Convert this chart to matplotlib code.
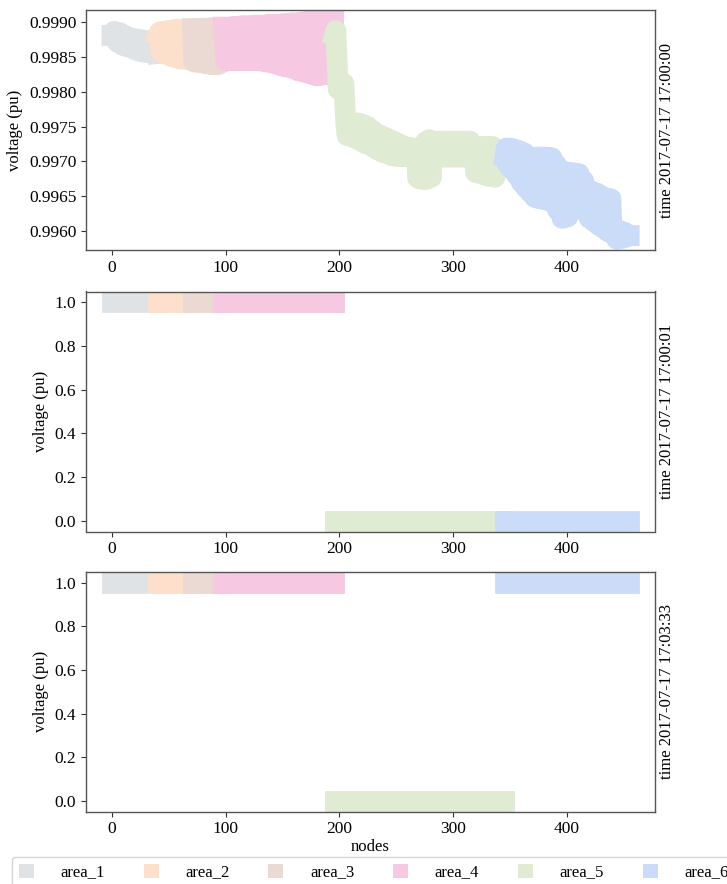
import numpy as np
import matplotlib
matplotlib.use("Agg")
import matplotlib.pyplot as plt
from matplotlib.patches import Patch
from matplotlib.ticker import MultipleLocator, FormatStrFormatter

plt.rcParams['font.family'] = ['Liberation Serif', 'DejaVu Serif']
plt.rcParams['font.size'] = 12

# ---------------- data ----------------
area_names = ['area_1', 'area_2', 'area_3', 'area_4', 'area_5', 'area_6']
area_colors = ['#dfe3e6', '#fde0cb', '#ebdad3', '#f6c8e2', '#dfebd2', '#cbdcf9']

time_labels = ['time 2017-07-17 17:00:00',
               'time 2017-07-17 17:00:01',
               'time 2017-07-17 17:03:33']

# voltages per node at 17:00:00, one list per area (nodes numbered consecutively)
v_area_1 = [0.99881, 0.99881, 0.99887, 0.99886, 0.99874, 0.99871, 0.99884, 0.99885, 0.99869, 0.99867,
            0.99882, 0.99881, 0.99866, 0.99865, 0.99879, 0.99878, 0.99864, 0.99863, 0.99877, 0.99876,
            0.99861, 0.99860, 0.99876, 0.99875, 0.99859, 0.99858, 0.99875, 0.99874, 0.99857, 0.99857,
            0.99874, 0.99873, 0.99856, 0.99856, 0.99873, 0.99872, 0.99855, 0.99855, 0.99872, 0.99871,
            0.99855]

v_area_2 = [0.99882, 0.99886, 0.99858, 0.99857, 0.99887, 0.99887, 0.99855, 0.99854, 0.99888, 0.99888,
            0.99852, 0.99851, 0.99889, 0.99889, 0.99850, 0.99849, 0.99890, 0.99890, 0.99848, 0.99847,
            0.99890, 0.99890, 0.99847, 0.99847, 0.99890, 0.99890, 0.99847, 0.99847, 0.99890, 0.99890]

v_area_3 = [0.99891, 0.99843, 0.99843, 0.99891, 0.99891, 0.99843, 0.99842, 0.99891, 0.99891, 0.99842,
            0.99841, 0.99891, 0.99891, 0.99840, 0.99840, 0.99892, 0.99892, 0.99839, 0.99839, 0.99892,
            0.99892, 0.99839, 0.99839, 0.99892, 0.99892, 0.99841, 0.99842]

v_area_4 = [0.99893, 0.99893, 0.99845, 0.99845, 0.99893, 0.99893, 0.99845, 0.99845,
            0.99894, 0.99894, 0.99845, 0.99845, 0.99894, 0.99894, 0.99845, 0.99845,
            0.99895, 0.99895, 0.99845, 0.99845, 0.99895, 0.99895, 0.99845, 0.99845,
            0.99895, 0.99895, 0.99845, 0.99845, 0.99896, 0.99896, 0.99845, 0.99845,
            0.99896, 0.99896, 0.99844, 0.99844, 0.99896, 0.99896, 0.99843, 0.99843,
            0.99897, 0.99897, 0.99842, 0.99842, 0.99897, 0.99897, 0.99840, 0.99840,
            0.99897, 0.99897, 0.99838, 0.99838, 0.99898, 0.99898, 0.99836, 0.99836,
            0.99898, 0.99898, 0.99835, 0.99835, 0.99899, 0.99899, 0.99833, 0.99833,
            0.99899, 0.99899, 0.99830, 0.99830, 0.99900, 0.99900, 0.99829, 0.99829,
            0.99901, 0.99901, 0.99827, 0.99827, 0.99902, 0.99902, 0.99825, 0.99825,
            0.99902, 0.99902, 0.99823, 0.99823, 0.99902, 0.99902, 0.99824, 0.99824,
            0.99902, 0.99902, 0.99825, 0.99825, 0.99902, 0.99902, 0.99824, 0.99824,
            0.99826, 0.99902]

v_area_5 = [0.99882, 0.99888, 0.99850, 0.99804, 0.99806, 0.99808, 0.99810, 0.99813, 0.99812, 0.99780,
            0.99750, 0.99737,
            0.99752, 0.99752, 0.99736, 0.99736, 0.99755, 0.99755, 0.99733, 0.99733,
            0.99755, 0.99755, 0.99730, 0.99730, 0.99753, 0.99753, 0.99726, 0.99726,
            0.99750, 0.99750, 0.99724, 0.99724, 0.99745, 0.99745, 0.99720, 0.99720,
            0.99740, 0.99740, 0.99716, 0.99716, 0.99737, 0.99737, 0.99713, 0.99713,
            0.99734, 0.99734, 0.99711, 0.99711, 0.99731, 0.99731, 0.99708, 0.99708,
            0.99728, 0.99728, 0.99707, 0.99707, 0.99725, 0.99725, 0.99707, 0.99707,
            0.99722, 0.99722, 0.99707, 0.99707, 0.99720, 0.99720, 0.99706, 0.99706,
            0.99719, 0.99719, 0.99706, 0.99706, 0.99719, 0.99676, 0.99675, 0.99719,
            0.99720, 0.99674, 0.99674, 0.99724, 0.99728, 0.99674, 0.99675, 0.99731,
            0.99730, 0.99677,
            0.99729, 0.99729, 0.99706, 0.99706, 0.99729, 0.99729, 0.99706, 0.99706,
            0.99729, 0.99729, 0.99706, 0.99706, 0.99729, 0.99729, 0.99706, 0.99706,
            0.99729, 0.99729, 0.99706, 0.99706, 0.99729, 0.99729, 0.99706, 0.99706,
            0.99729, 0.99729, 0.99706, 0.99706, 0.99729, 0.99729, 0.99706, 0.99706,
            0.99729, 0.99729, 0.99706, 0.99706,
            0.99721, 0.99721, 0.99684, 0.99684, 0.99721, 0.99721, 0.99682, 0.99682,
            0.99721, 0.99721, 0.99680, 0.99680, 0.99721, 0.99721, 0.99678, 0.99678,
            0.99721, 0.99721, 0.99677, 0.99677, 0.99715, 0.99715, 0.99690, 0.99690,
            0.99710, 0.99710, 0.99700, 0.99700]

v_area_6 = [0.99708, 0.99719, 0.99696, 0.99694, 0.99719, 0.99719, 0.99688, 0.99688,
            0.99717, 0.99717, 0.99680, 0.99680, 0.99715, 0.99715, 0.99670, 0.99670,
            0.99712, 0.99712, 0.99662, 0.99662, 0.99706, 0.99706, 0.99655, 0.99655,
            0.99705, 0.99705, 0.99648, 0.99648, 0.99706, 0.99706, 0.99646, 0.99646,
            0.99706, 0.99706, 0.99645, 0.99645, 0.99706, 0.99706, 0.99643, 0.99643,
            0.99705, 0.99705, 0.99642, 0.99642, 0.99695, 0.99695, 0.99630, 0.99630,
            0.99686, 0.99686, 0.99618, 0.99618, 0.99685, 0.99685, 0.99620, 0.99620,
            0.99684, 0.99684, 0.99630, 0.99630, 0.99683, 0.99683, 0.99636, 0.99636,
            0.99682, 0.99682, 0.99636, 0.99636, 0.99672, 0.99672, 0.99628, 0.99628,
            0.99660, 0.99660, 0.99618, 0.99618, 0.99656, 0.99656, 0.99613, 0.99613,
            0.99654, 0.99654, 0.99608, 0.99608, 0.99650, 0.99650, 0.99604, 0.99604,
            0.99647, 0.99647, 0.99599, 0.99599, 0.99646, 0.99646, 0.99596, 0.99596,
            0.99602, 0.99602, 0.99588, 0.99588, 0.99600, 0.99600, 0.99589, 0.99589,
            0.99598, 0.99598, 0.99591, 0.99591, 0.99593, 0.99593]

# per-area voltage level at the later two time steps
state_t1 = [1.0, 1.0, 1.0, 1.0, 0.0, 0.0]
state_t2 = [1.0, 1.0, 1.0, 1.0, 0.0, 1.0]

# ---------------- build per-area series ----------------
v_t0 = [v_area_1, v_area_2, v_area_3, v_area_4, v_area_5, v_area_6]
sizes = [len(v) for v in v_t0]
starts = np.concatenate([[0], np.cumsum(sizes)[:-1]])
node_idx = [np.arange(s, s + n) for s, n in zip(starts, sizes)]

series = [
    [np.array(v) for v in v_t0],
    [np.full(n, s) for n, s in zip(sizes, state_t1)],
    [np.full(n, s) for n, s in zip(sizes, state_t2)],
]

# ---------------- figure ----------------
W, H = 727, 884
fig = plt.figure(figsize=(W / 100, H / 100), dpi=100)
tops = [10, 291.5, 571.7]
ax_h = 240
axes = []
for top in tops:
    ax = fig.add_axes([86 / W, 1 - (top + ax_h) / H, 569 / W, ax_h / H])
    axes.append(ax)

for i, ax in enumerate(axes):
    for k in range(6):
        ax.plot(node_idx[k], series[i][k], color=area_colors[k], lw=15,
                solid_capstyle='projecting', solid_joinstyle='round')
    ax.set_ylabel('voltage (pu)')
    ax.text(1 + 4 / 569, 0.5, time_labels[i], rotation=90, transform=ax.transAxes,
            va='center', ha='left')
    for sp in ax.spines.values():
        sp.set_color('#555555')
        sp.set_linewidth(1.0)
    ax.tick_params(colors='#333333', labelcolor='black', labelsize=12.5)
    ax.xaxis.set_major_locator(MultipleLocator(100))

axes[0].yaxis.set_major_locator(MultipleLocator(0.0005))
axes[0].yaxis.set_major_formatter(FormatStrFormatter('%.4f'))
axes[2].set_xlabel('nodes', labelpad=1)

handles = [Patch(facecolor=c, edgecolor='none') for c in area_colors]
fig.legend(handles, area_names, loc='upper left', bbox_to_anchor=(12 / W, 1 - 857 / H),
           ncol=6, handlelength=0.9, handleheight=0.9, handletextpad=1.6,
           columnspacing=2.33, borderaxespad=0, fontsize=12, edgecolor='#cccccc')

fig.savefig('out.png', dpi=100)
